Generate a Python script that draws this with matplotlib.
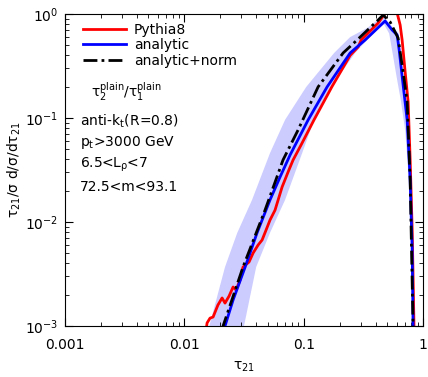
import matplotlib
matplotlib.use('Agg')
import matplotlib.pyplot as plt
from matplotlib.ticker import FixedLocator, FixedFormatter, LogLocator, NullFormatter

# ---------------------------------------------------------------------------
# Data
# ---------------------------------------------------------------------------

pythia_x = [0.0152, 0.0155, 0.0164, 0.0174, 0.0191, 0.0207, 0.0219, 0.0237, 0.0256, 0.0271,
            0.0293, 0.0310, 0.0348, 0.0377, 0.0415, 0.0448, 0.0484, 0.0522, 0.0575, 0.0659,
            0.0740, 0.0815, 0.095, 0.122, 0.172, 0.245, 0.286, 0.303,
            0.421, 0.463, 0.510, 0.562, 0.607, 0.643, 0.668, 0.708, 0.750, 0.780,
            0.811, 0.841]
pythia_y = [0.00092, 0.00107, 0.00119, 0.00122, 0.00159, 0.00186, 0.00166, 0.00194, 0.00237, 0.00222,
            0.00277, 0.00369, 0.00412, 0.00504, 0.00601, 0.00671, 0.00838, 0.01045, 0.0130, 0.0217,
            0.0303, 0.0395, 0.055, 0.0959, 0.199, 0.40, 0.482, 0.562,
            0.819, 0.957, 1.07, 1.12, 1.02, 0.784, 0.562, 0.277, 0.143, 0.0395,
            0.0084, 0.00092]

analytic_x = [0.0219, 0.0256, 0.0323, 0.0406, 0.0522, 0.0634, 0.0769, 0.109, 0.157, 0.245,
              0.327, 0.481, 0.551, 0.607, 0.631, 0.681, 0.736, 0.780, 0.811, 0.826]
analytic_y = [0.00100, 0.00178, 0.00369, 0.00783, 0.0163, 0.0271, 0.0441, 0.0959, 0.199, 0.422,
              0.562, 0.856, 0.702, 0.628, 0.451, 0.208, 0.0957, 0.0253, 0.00538, 0.00092]

# uncertainty band: upper and lower edges
band_up_x = [0.0158, 0.0219, 0.0277, 0.0369, 0.0522, 0.0698, 0.105, 0.180, 0.245, 0.340,
             0.463, 0.56, 0.62, 0.645, 0.69, 0.745, 0.79, 0.82, 0.835]
band_up_y = [0.00090, 0.00369, 0.00783, 0.0163, 0.046, 0.096, 0.199, 0.422, 0.60, 0.733,
             0.957, 0.74, 0.66, 0.47, 0.22, 0.10, 0.027, 0.0057, 0.00090]
band_lo_x = [0.031, 0.040, 0.052, 0.0698, 0.0971, 0.122, 0.170, 0.270, 0.340, 0.42,
             0.47, 0.52, 0.56, 0.60, 0.65, 0.71, 0.77, 0.805, 0.82]
band_lo_y = [0.00090, 0.0037, 0.0078, 0.0163, 0.046, 0.0959, 0.199, 0.422, 0.562, 0.72,
             0.80, 0.65, 0.40, 0.25, 0.15, 0.075, 0.021, 0.0049, 0.00090]

norm_x = [0.0207, 0.0211, 0.0310, 0.0474, 0.0671, 0.0897, 0.132, 0.214, 0.280, 0.421,
          0.463, 0.530, 0.618, 0.681, 0.736, 0.780, 0.826]
norm_y = [0.00092, 0.00100, 0.00369, 0.0130, 0.0395, 0.0767, 0.199, 0.422, 0.562, 0.876,
          0.978, 0.838, 0.588, 0.277, 0.143, 0.0253, 0.00092]

xticks = [0.001, 0.01, 0.1, 1]
xtick_labels = ['0.001', '0.01', '0.1', '1']

info_lines = ['anti-k$_{\\mathregular{t}}$(R=0.8)', 'p$_{\\mathregular{t}}$>3000 GeV',
              '6.5<L$_{\\mathregular{\\rho}}$<7', '72.5<m<93.1']

# ---------------------------------------------------------------------------
# Plot
# ---------------------------------------------------------------------------

plt.rcParams['font.family'] = ['DejaVu Sans']
plt.rcParams['font.size'] = 10

fig = plt.figure(figsize=(4.28, 3.77), dpi=100)
ax = fig.add_axes([0.152, 0.1353, 0.8364, 0.8276])

ax.fill(band_up_x + band_lo_x[::-1], band_up_y + band_lo_y[::-1],
        color=(0.8, 0.8, 1.0), lw=0)
ax.plot(pythia_x, pythia_y, color='red', lw=2, label='Pythia8')
ax.plot(analytic_x, analytic_y, color='blue', lw=2, label='analytic')
ax.plot(norm_x, norm_y, color='black', lw=2, dashes=(5, 1.5, 1, 1.5), label='analytic+norm')

ax.set_xscale('log')
ax.set_yscale('log')
ax.set_xlim(0.001, 1)
ax.set_ylim(0.001, 1)

ax.xaxis.set_major_locator(FixedLocator(xticks))
ax.xaxis.set_major_formatter(FixedFormatter(xtick_labels))
ax.xaxis.set_minor_locator(LogLocator(base=10, subs=range(2, 10)))
ax.xaxis.set_minor_formatter(NullFormatter())
ax.yaxis.set_minor_locator(LogLocator(base=10, subs=range(2, 10)))
ax.yaxis.set_minor_formatter(NullFormatter())
ax.tick_params(which='both', direction='in', top=True, right=True)
ax.tick_params(which='major', length=6)
ax.tick_params(which='minor', length=3)
ax.tick_params(axis='x', which='major', pad=9)
ax.tick_params(axis='y', which='major', pad=5)

ax.set_xlabel('τ$_{21}$', labelpad=5)
ax.set_ylabel('τ$_{21}$/σ d/σ/dτ$_{21}$', labelpad=1)

ax.legend(loc='upper left', bbox_to_anchor=(0.05, 0.972), frameon=False,
          borderaxespad=0, borderpad=0, handlelength=3.1, handletextpad=0.55,
          labelspacing=0.1)

ax.text(0.073, 0.75, 'τ$_2^{\\mathregular{plain}}$/τ$_1^{\\mathregular{plain}}$',
        transform=ax.transAxes, va='center')
for i, line in enumerate(info_lines):
    ax.text(0.042, 0.657 - i * 0.07, line, transform=ax.transAxes, va='center')

fig.savefig('out.png', dpi=100)
